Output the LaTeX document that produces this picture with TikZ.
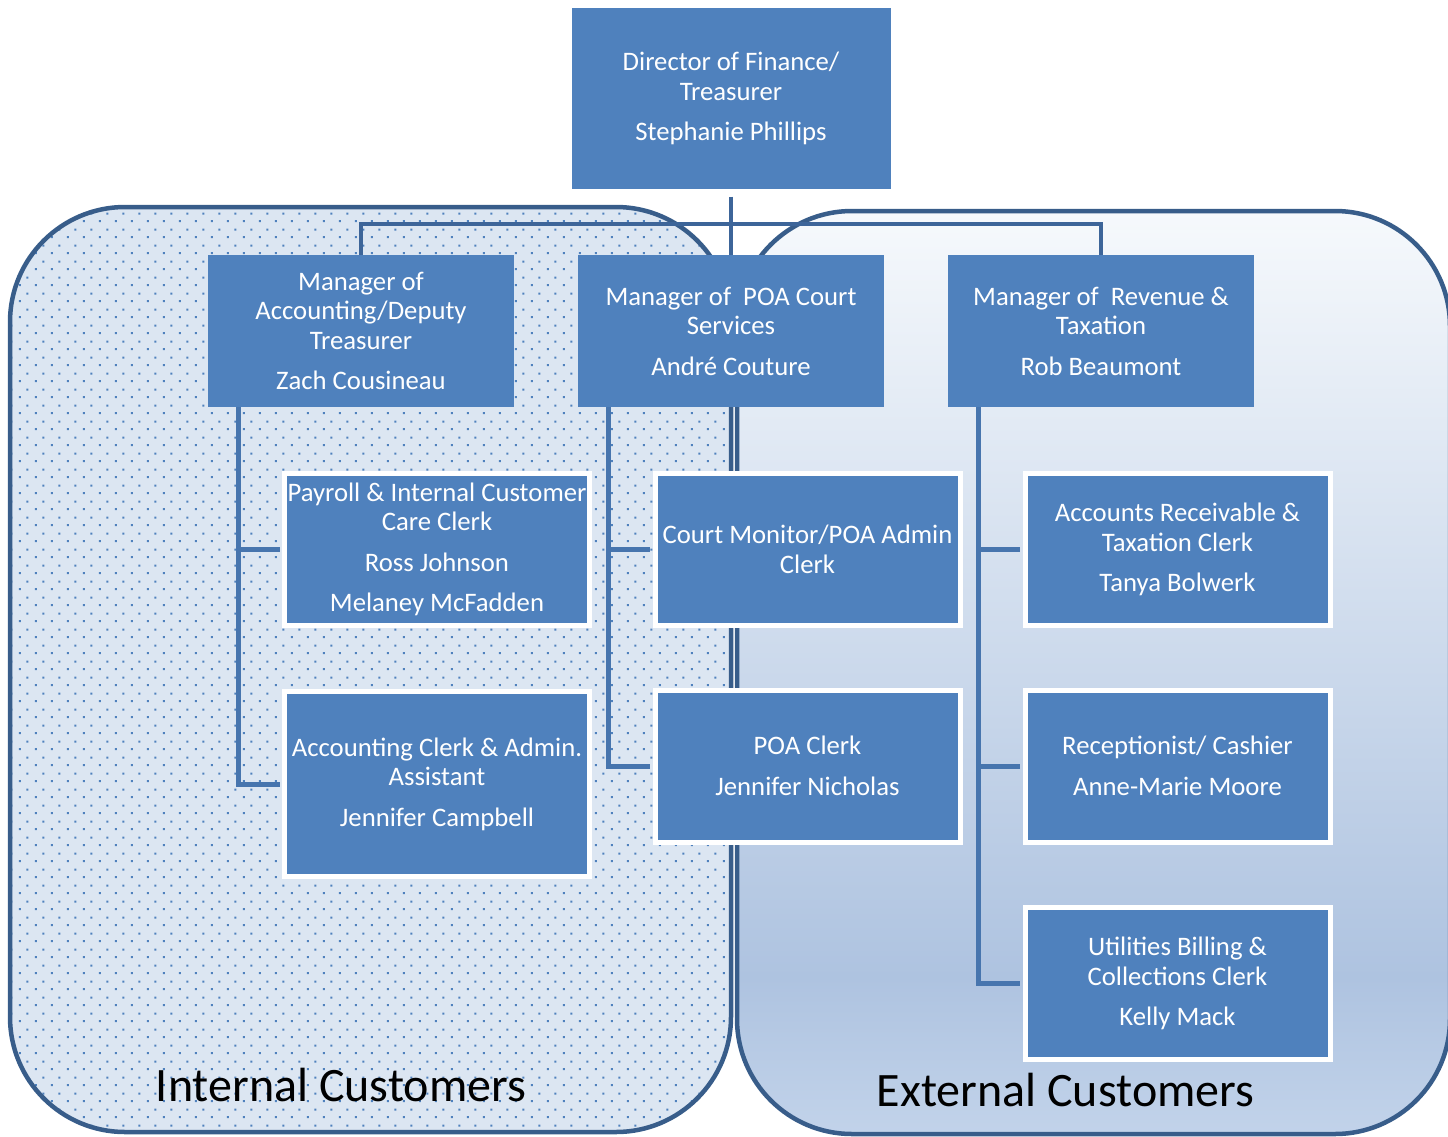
\documentclass[tikz,border=0pt]{standalone}
\usepackage{fontspec}
\setmainfont{Carlito}
\usetikzlibrary{patterns}
\definecolor{boxblue}{HTML}{4F81BD}
\definecolor{rimblue}{HTML}{385D8A}
\definecolor{linkblue}{HTML}{4775AE}
\definecolor{barblue}{HTML}{3D6599}
\definecolor{intfill}{HTML}{DCE6F2}
\definecolor{exttop}{HTML}{F6F9FC}
\definecolor{extdark}{HTML}{AEC3E0}
\definecolor{extbot}{HTML}{C2D3EA}
\pgfdeclareverticalshading{extshade}{100bp}{color(0bp)=(extbot); color(25bp)=(extbot); color(33.5bp)=(extdark); color(75bp)=(exttop); color(100bp)=(exttop)}
% staggered dots, 16pt apart, rows 8pt apart
\pgfdeclarepatternformonly{bluedots}{\pgfpointorigin}{\pgfpoint{16pt}{16pt}}{\pgfpoint{16pt}{16pt}}{
\pgfpathrectangle{\pgfpoint{3pt}{3pt}}{\pgfpoint{2.2pt}{2.2pt}}
\pgfpathrectangle{\pgfpoint{11pt}{11pt}}{\pgfpoint{2.2pt}{2.2pt}}
\pgfusepath{fill}}
\begin{document}
\begin{tikzpicture}[x=1pt, y=-1pt, line join=miter,
mgr node/.style={rectangle, fill=boxblue, text=white, align=center, inner sep=0pt, minimum width=306pt, minimum height=152pt, font=\fontsize{26.7}{29.5}\selectfont},
staff node/.style={mgr node, draw=white, line width=5pt, minimum width=305pt},
link/.style={draw=linkblue, line width=5pt, shorten >=2.5pt},
bar/.style={draw=barblue, line width=4pt},
zone label/.style={anchor=base, inner sep=0pt, font=\fontsize{48}{57}\selectfont}]
\useasboundingbox (0,0) rectangle (1448,1136);
% customer zones
\path[fill=intfill, postaction={pattern=bluedots, pattern color=boxblue}, postaction={draw=rimblue, line width=4.5pt}, rounded corners=115pt] (10,207) rectangle (731,1132);
\shadedraw[shading=extshade, draw=rimblue, line width=4.5pt, rounded corners=115pt] (737,211) rectangle (1450,1134);
\node[zone label] (intlab) at (341,1101) {Internal Customers};
\node[zone label] (extlab) at (1065.5,1106) {External Customers};

\node[staff node, minimum width=324pt, minimum height=186pt] (fin) at (731,98.5) {Director of Finance/\\Treasurer\\[11pt]Stephanie Phillips};

\node[mgr node] (acc) at (361,331) {Manager of\\Accounting/Deputy\\Treasurer\\[11pt]Zach Cousineau};
\node[mgr node] (poa) at (731,331) {Manager of\ \ POA Court\\Services\\[11pt]André Couture};
\node[mgr node] (rev) at (1101,331) {Manager of\ \ Revenue \&\\Taxation\\[11pt]Rob Beaumont};

\node[staff node] (pay) at (437,549.5) {Payroll \& Internal Customer\\Care Clerk\\[11pt]Ross Johnson\\[11pt]Melaney McFadden};
\node[staff node, minimum height=185pt] (accl) at (437,784) {Accounting Clerk \& Admin.\\Assistant\\[11pt]Jennifer Campbell};
\node[staff node] (court) at (807.5,549.5) {Court Monitor/POA Admin\\Clerk};
\node[staff node] (clerk) at (807.5,766) {POA Clerk\\[11pt]Jennifer Nicholas};
\node[staff node] (ar) at (1177.5,549.5) {Accounts Receivable \&\\Taxation Clerk\\[11pt]Tanya Bolwerk};
\node[staff node] (rec) at (1177.5,766) {Receptionist/ Cashier\\[11pt]Anne-Marie Moore};
\node[staff node] (util) at (1177.5,983.5) {Utilities Billing \&\\Collections Clerk\\[11pt]Kelly Mack};

\coordinate (hub) at (731,224);
\draw[bar, shorten <=2.5pt] (fin.south) -- (poa.north);
\draw[bar] (acc.north) |- (hub) -| (rev.north);

\draw[link] ([xshift=31pt]acc.south west) |- (pay.west);
\draw[link] ([xshift=31pt]acc.south west) |- (accl.west);
\draw[link] ([xshift=31pt]poa.south west) |- (court.west);
\draw[link] ([xshift=31pt]poa.south west) |- (clerk.west);
\draw[link] ([xshift=31pt]rev.south west) |- (ar.west);
\draw[link] ([xshift=31pt]rev.south west) |- (rec.west);
\draw[link] ([xshift=31pt]rev.south west) |- (util.west);
\end{tikzpicture}
\end{document}
